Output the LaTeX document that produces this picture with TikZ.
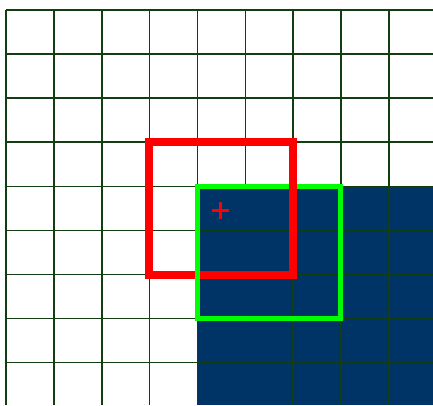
\documentclass[tikz,border=0pt]{standalone}
\definecolor{navy}{HTML}{003366}
\definecolor{gridgreen}{HTML}{123F12}
\definecolor{brightgreen}{HTML}{00FF00}
\tikzset{
  gridline/.style={draw=gridgreen, line width=1.8pt},
  redbox/.style={draw=red, line width=8pt},
  greenbox/.style={draw=brightgreen, line width=4.5pt},
  crossmark/.style={draw=red, line width=2.4pt}
}
\begin{document}
\begin{tikzpicture}[x=1pt,y=-1pt]
\useasboundingbox (0,0) rectangle (433,405);
\fill[white] (0,0) rectangle (433,405);
\fill[navy] (197.5,186.5) rectangle (433,405);
% grid
\foreach \x in {6,54,102,149.5,197.5,245.5,293,341,389}
  \draw[gridline] (\x,10) -- (\x,405);
\foreach \y in {10,54,98,142,186.5,230.5,274.5,318.5,362.5}
  \draw[gridline] (6,\y) -- (433,\y);
% red box
\draw[redbox] (149.3,142) rectangle (292.7,274.7);
% green box
\draw[greenbox] (197.3,186.7) rectangle (340.7,318.7);
% red right edge over green top
\draw[draw=red, line width=8pt] (292.7,180) -- (292.7,194);
% cross
\draw[crossmark] (212,210.3) -- (229,210.3);
\draw[crossmark] (220.5,202) -- (220.5,218.7);
\end{tikzpicture}
\end{document}
